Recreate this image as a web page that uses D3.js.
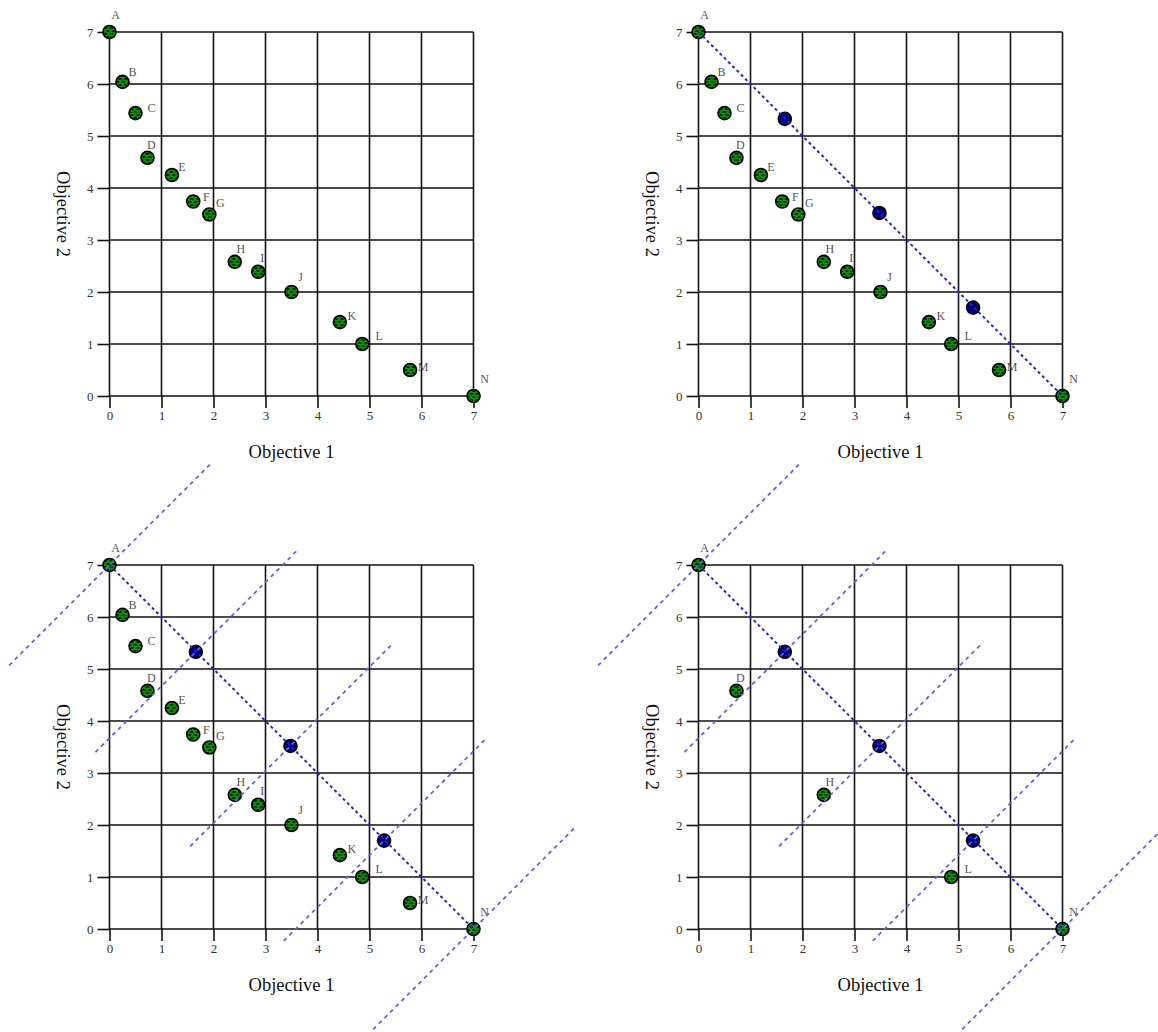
<!DOCTYPE html>
<html>
<head>
<meta charset="utf-8">
<script src="https://cdn.jsdelivr.net/npm/d3@7"></script>
<style>
  body { margin: 0; background: #fff; }
  text { font-family: "Liberation Serif", "DejaVu Serif", serif; }
</style>
</head>
<body>
<div id="chart"></div>
<script>
// points
const letters = ['A', 'B', 'C', 'D', 'E', 'F', 'G', 'H', 'I', 'J', 'K', 'L', 'M', 'N'];
const obj1 = [0, 0.25, 0.5, 0.73, 1.2, 1.61, 1.92, 2.41, 2.86, 3.5, 4.43, 4.86, 5.78, 7];
const obj2 = [7, 6.04, 5.44, 4.58, 4.25, 3.74, 3.49, 2.58, 2.39, 2.0, 1.42, 1.0, 0.5, 0];

// blue points on the A-N line
const frontX = [1.66, 3.48, 5.28];
const frontY = [5.33, 3.52, 1.70];

// half length of the dashed cross lines (data units)
const perpHalf = 1.93;

// points that survive in the last panel
const kept = ['A', 'D', 'H', 'L', 'N'];

const tickVals = [0, 1, 2, 3, 4, 5, 6, 7];

// label nudges in px (layout, not data)
const nudge = {
  A: [6, -17], B: [10, -10], C: [16, -5], D: [4, -13], E: [10, -8],
  F: [13, -5], G: [11, -12], H: [6, -13], I: [4, -14], J: [9, -15],
  K: [12, -6], L: [17, -8], M: [13, -3], N: [11, -17]
};

const W = 1158, H = 1032;
const size = 364;
const panels = [
  { ox: 109.5, oy: 32,  front: false, perp: false, only: null },
  { ox: 698.5, oy: 32,  front: true,  perp: false, only: null },
  { ox: 109.5, oy: 565, front: true,  perp: true,  only: null },
  { ox: 698.5, oy: 565, front: true,  perp: true,  only: kept }
];

const svg = d3.select('#chart').append('svg')
  .attr('width', W).attr('height', H);

// speckled fills for the markers
const defs = svg.append('defs');
function speckle(id, base) {
  const p = defs.append('pattern')
    .attr('id', id)
    .attr('patternUnits', 'userSpaceOnUse')
    .attr('width', 6).attr('height', 6);
  p.append('rect').attr('width', 6).attr('height', 6).attr('fill', base);
  p.append('path')
    .attr('d', 'M0.5,2.5 q1.5,-1.5 3,0 M3,5.5 q1.5,-1.5 3,0')
    .attr('fill', 'none').attr('stroke', '#000').attr('stroke-width', 1.2);
}
speckle('sp-green', '#0d8f0d');
speckle('sp-blue', '#0000a0');

const pts = letters.map((l, i) => ({ l, x: obj1[i], y: obj2[i] }));
const front = [{ x: 0, y: 7 }]
  .concat(frontX.map((x, i) => ({ x, y: frontY[i] })))
  .concat([{ x: 7, y: 0 }]);

panels.forEach(p => {
  const x = d3.scaleLinear().domain([0, 7]).range([0, size]);
  const y = d3.scaleLinear().domain([0, 7]).range([size, 0]);
  const g = svg.append('g').attr('transform', `translate(${p.ox},${p.oy})`);

  // grid
  g.append('g').selectAll('line.v').data(tickVals).join('line')
    .attr('x1', d => x(d)).attr('x2', d => x(d))
    .attr('y1', 0).attr('y2', size)
    .attr('stroke', '#111').attr('stroke-width', 1.6);
  g.append('g').selectAll('line.h').data(tickVals).join('line')
    .attr('y1', d => y(d)).attr('y2', d => y(d))
    .attr('x1', 0).attr('x2', size)
    .attr('stroke', '#111').attr('stroke-width', 1.6);

  // axes
  const fmt = d3.format('d');
  const xa = g.append('g').attr('transform', `translate(0,${size})`)
    .call(d3.axisBottom(x).tickValues(tickVals).tickFormat(fmt).tickSize(12).tickPadding(3));
  const ya = g.append('g')
    .call(d3.axisLeft(y).tickValues(tickVals).tickFormat(fmt).tickSize(12).tickPadding(4));
  [xa, ya].forEach(a => {
    a.select('.domain').remove();
    a.selectAll('line').attr('stroke', '#111').attr('stroke-width', 1.6);
    a.selectAll('text')
      .attr('font-family', '"Liberation Serif", serif')
      .attr('font-size', 13).attr('fill', '#333');
  });

  g.append('text')
    .attr('x', size / 2).attr('y', size + 62)
    .attr('text-anchor', 'middle')
    .attr('font-size', 18.5).attr('fill', '#111')
    .text('Objective 1');
  g.append('text')
    .attr('transform', `translate(-53,${size / 2}) rotate(90)`)
    .attr('text-anchor', 'middle')
    .attr('font-size', 18.5).attr('fill', '#111')
    .text('Objective 2');

  // green points
  const shown = p.only ? pts.filter(d => p.only.includes(d.l)) : pts;
  g.append('g').selectAll('circle').data(shown).join('circle')
    .attr('cx', d => x(d.x)).attr('cy', d => y(d.y)).attr('r', 6.5)
    .attr('fill', 'url(#sp-green)')
    .attr('stroke', '#000').attr('stroke-width', 1.6);
  g.append('g').selectAll('text').data(shown).join('text')
    .attr('x', d => x(d.x) + nudge[d.l][0])
    .attr('y', d => y(d.y) + nudge[d.l][1])
    .attr('text-anchor', 'middle')
    .attr('dominant-baseline', 'central')
    .attr('font-size', 12).attr('fill', '#555')
    .text(d => d.l);

  if (p.front) {
    const mid = front.slice(1, -1);
    g.append('g').selectAll('circle').data(mid).join('circle')
      .attr('cx', d => x(d.x)).attr('cy', d => y(d.y)).attr('r', 6.5)
      .attr('fill', 'url(#sp-blue)')
      .attr('stroke', '#000').attr('stroke-width', 1.6);
  }

  if (p.perp) {
    g.append('g').selectAll('line').data(front).join('line')
      .attr('x1', d => x(d.x - perpHalf)).attr('y1', d => y(d.y - perpHalf))
      .attr('x2', d => x(d.x + perpHalf)).attr('y2', d => y(d.y + perpHalf))
      .attr('stroke', '#6464dc').attr('stroke-width', 1.8)
      .attr('stroke-dasharray', '4,4');
  }

  if (p.front) {
    g.append('line')
      .attr('x1', x(0)).attr('y1', y(7))
      .attr('x2', x(7)).attr('y2', y(0))
      .attr('stroke', '#2626cc').attr('stroke-width', 2)
      .attr('stroke-dasharray', '3,3');
  }
});
</script>
</body>
</html>
